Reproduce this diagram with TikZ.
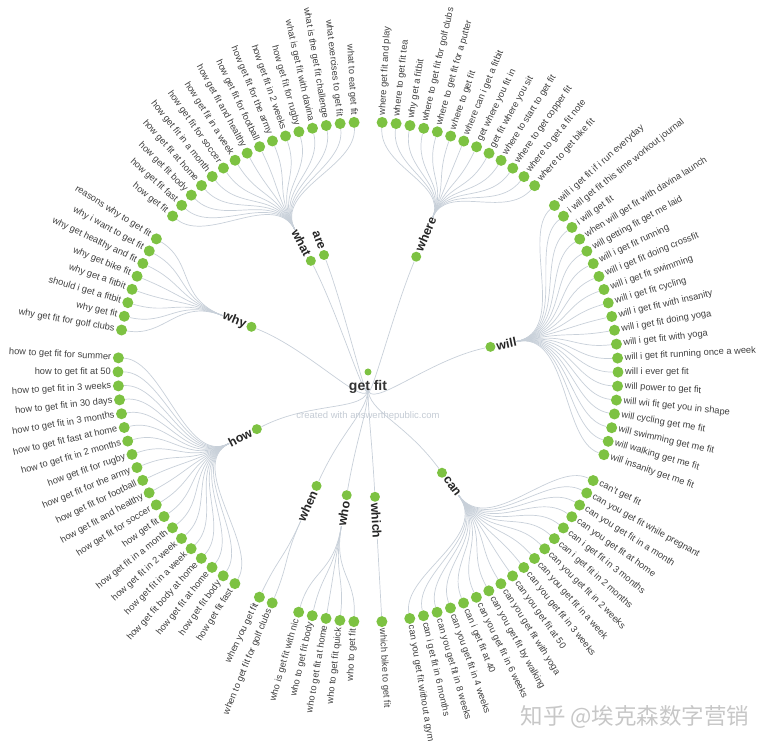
\documentclass[tikz,border=0pt]{standalone}
\usepackage{fontspec}
\setmainfont{Liberation Sans}
\newfontfamily\cjkfont{Noto Sans CJK SC}
\usetikzlibrary{calc}

\definecolor{atpgreen}{RGB}{125,194,66}
\definecolor{atpline}{RGB}{200,208,217}
\definecolor{atptext}{RGB}{64,64,64}
\definecolor{atpmark}{RGB}{196,203,212}

\begin{document}
\begin{tikzpicture}[x=1pt, y=1pt,
  dot/.style={circle, fill=atpgreen, inner sep=0pt, minimum size=11pt},
  link/.style={draw=atpline, line width=0.7pt},
  leaftext/.style={text=atptext, inner sep=0pt, font=\fontsize{9.3}{10}\selectfont},
  branchtext/.style={text=black!85, inner sep=0pt, font=\fontsize{12.5}{13}\selectfont\bfseries}]
\useasboundingbox (-368,-377) rectangle (400,372);

\node[dot, minimum size=7pt] (root) at (0,0) {};
\coordinate (root-h) at (0,-16);
\coordinate (root-c) at (0,-40);

\foreach \b/\ba in {what/117.2, are/110.6, where/67.3, will/11.6, can/-53.7,
    which/-86.8, who/-99.8, when/-114.3, how/-152.8, why/158.8} {
  \pgfmathsetmacro\ro{cos(\ba)<0 ? 180 : 0}
  \ifdim\ro pt>1pt \def\an{east}\def\far{west}\else\def\an{west}\def\far{east}\fi
  \node[dot, minimum size=10pt] (\b) at (\ba:125) {};
  \draw[link] (root-h) .. controls (root-c) and (\ba:62) .. (\b);
  \node[branchtext, anchor=\an, rotate=\ba+\ro] (\b-l) at (\ba:131) {\b};
  \coordinate (\b-h) at (\b-l.\far);
}

\foreach \b/\ba/\sa/\lst in {
  what/117.2/141.4/{how get fit, how get fit fast, how get fit body, how get fit at home,
    how get fit in a month, how get fit for soccer, how get fit in a week,
    how get fit and healthy, how get fit for football, how get fit for the army,
    how get fit in 2 weeks, how get fit for rugby, what is get fit with davina,
    what is the get fit challenge, what exercises to get fit, what to eat get fit},
  where/67.3/86.76/{where get fit and play, where to get fit tea, why get a fitbit,
    where to get fit for golf clubs, where to get fit for a putter, where to get fit,
    where can i get a fitbit, get where you fit in, get fit where you sit,
    where to start to get fit, where to get copper fit, where to get a fit note,
    where to get bike fit},
  will/11.6/41.76/{will i get fit if i run everyday, i will get fit this time workout journal,
    i will get fit, when will get fit with davina launch, will getting fit get me laid,
    will i get fit running, will i get fit doing crossfit, will i get fit swimming,
    will i get fit cycling, will i get fit with insanity, will i get fit doing yoga,
    will i get fit with yoga, will i get fit running once a week, will i ever get fit,
    will power to get fit, will wii fit get you in shape, will cycling get me fit,
    will swimming get me fit, will walking get me fit, will insanity get me fit},
  can/-53.7/-25.74/{can't get fit, can you get fit while pregnant, can you get fit in a month,
    can you get fit at home, can i get fit in 3 months, can i get fit in 2 months,
    can you get fit in 2 weeks, can you get fit in a week, can you get fit in 3 weeks,
    can you get fit at 50, can you get fit with yoga, can you get fit by walking,
    can you get fit in 6 weeks, can i get fit at 40, can you get fit in 4 weeks,
    can you get fit in 8 weeks, can i get fit in 6 months, can you get fit without a gym},
  which/-86.8/-86.81/{which bike to get fit},
  who/-99.8/-93.24/{who to get fit, who to get fit quick, who to get fit at home,
    who to get fit body, who is get fit with nic},
  when/-114.3/-112.53/{when to get fit for golf clubs, when you get fit},
  how/-152.8/-122.17/{how get fit fast, how get fit body, how get fit at home,
    how get fit body at home, how get fit in a week, how get fit in 2 week,
    how get fit in a month, how get fit, how get fit for soccer, how get fit and healthy,
    how get fit for football, how get fit for the army, how get fit for rugby,
    how to get fit in 2 months, how to get fit fast at home, how to get fit in 3 months,
    how to get fit in 30 days, how to get fit in 3 weeks, how to get fit at 50,
    how to get fit for summer},
  why/158.8/-189.67/{why get fit for golf clubs, why get fit, should i get a fitbit,
    why get a fitbit, why get bike fit, why get healthy and fit, why i want to get fit,
    reasons why to get fit}} {
  \foreach \t [count=\k from 0] in \lst {
    \pgfmathsetmacro\a{\sa-3.2143*\k}
    \pgfmathsetmacro\ro{cos(\a)<0 ? 180 : 0}
    \ifdim\ro pt>1pt \def\an{east}\else\def\an{west}\fi
    \node[dot] (\b-\k) at (\a:250) {};
    \draw[link] (\b-h) .. controls (\ba:205) and (\a:205) .. (\b-\k);
    \node[leaftext, anchor=\an, rotate=\a+\ro] at (\a:257) {\t};
  }
}

\node[text=black!80, inner sep=0pt, font=\fontsize{14}{15}\selectfont\bfseries] (getfit) at (0,-14.5) {get fit};
\node[text=atpmark, inner sep=0pt, font=\fontsize{9.5}{10}\selectfont] (credit) at (0,-44) {created with answerthepublic.com};
\node[text=black!22, inner sep=0pt, font=\cjkfont\fontsize{22.5}{24}\selectfont] (zhihu) at (267,-345) {知乎 @埃克森数字营销};

\end{tikzpicture}
\end{document}
